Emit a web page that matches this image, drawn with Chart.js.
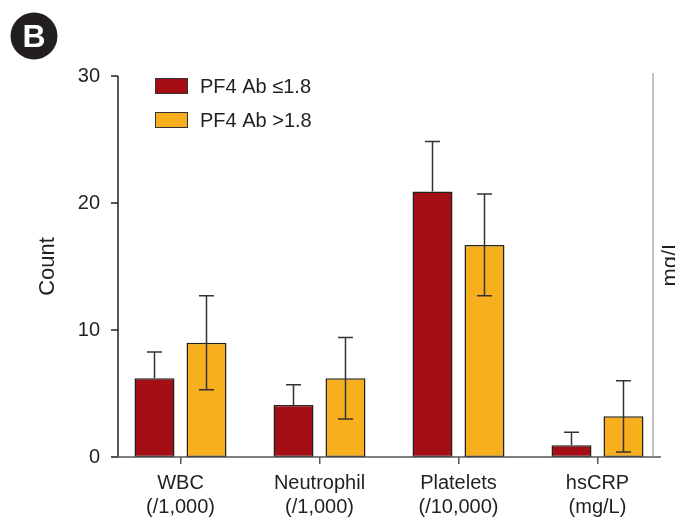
<!DOCTYPE html>
<html><head><meta charset="utf-8">
<script src="https://cdn.jsdelivr.net/npm/chart.js@4.4.1/dist/chart.umd.min.js"></script>
<style>html,body{margin:0;padding:0;background:#fff;} canvas{display:block;}</style>
</head><body>
<canvas id="c" width="675" height="519"></canvas>
<script>
// ---- data ----
const categories = [['WBC','(/1,000)'],['Neutrophil','(/1,000)'],['Platelets','(/10,000)'],['hsCRP','(mg/L)']];
const seriesNames = ['PF4 Ab \u22641.8','PF4 Ab >1.8'];
const lowMeans = [6.2, 4.1, 20.9, 0.92];
const lowErr   = [2.07, 1.58, 3.95, 1.02];
const highMeans = [9.0, 6.2, 16.7, 3.2];
const highErr   = [3.7, 3.2, 4.0, 2.8];
const yTicks = [0, 10, 20, 30];
const yTitle = 'Count';
const rightTitle = 'mg/L';
const panelLabel = 'B';

const FONT = "'Liberation Sans', Arial, sans-serif";
const TEXT = '#231f20';

const decor = {
  id: 'decor',
  afterDatasetsDraw(chart) {
    const ctx = chart.ctx, ys = chart.scales.y;
    chart.data.datasets.forEach((ds, di) => {
      const meta = chart.getDatasetMeta(di);
      meta.data.forEach((bar, i) => {
        const v = ds.data[i], e = ds.errors[i];
        const yt = ys.getPixelForValue(v + e);
        const yb = ds.showLower ? ys.getPixelForValue(v - e) : bar.y;
        ctx.save();
        ctx.strokeStyle = '#333'; ctx.lineWidth = 1.5;
        ctx.beginPath();
        ctx.moveTo(bar.x, yt); ctx.lineTo(bar.x, yb);
        ctx.moveTo(bar.x - 7.5, yt); ctx.lineTo(bar.x + 7.5, yt);
        if (ds.showLower) { ctx.moveTo(bar.x - 7.5, yb); ctx.lineTo(bar.x + 7.5, yb); }
        ctx.stroke();
        ctx.restore();
      });
    });
  },
  afterDraw(chart) {
    const ctx = chart.ctx, ca = chart.chartArea, ys = chart.scales.y;
    ctx.save();
    // y axis line + ticks
    const ax = ca.left + 7;
    ctx.strokeStyle = '#222'; ctx.lineWidth = 1.5;
    ctx.beginPath();
    ctx.moveTo(ax, ys.getPixelForValue(yTicks[yTicks.length - 1]));
    ctx.lineTo(ax, ca.bottom);
    yTicks.forEach(v => { const p = ys.getPixelForValue(v); ctx.moveTo(ca.left, p); ctx.lineTo(ax, p); });
    ctx.stroke();
    // x axis line
    ctx.strokeStyle = '#555';
    ctx.beginPath(); ctx.moveTo(ca.left + 1, ca.bottom); ctx.lineTo(ca.right - 6, ca.bottom); ctx.stroke();
    // right gray line
    ctx.strokeStyle = '#999'; ctx.lineWidth = 1.2;
    ctx.beginPath(); ctx.moveTo(ca.right - 14, ca.top - 3); ctx.lineTo(ca.right - 14, ca.bottom); ctx.stroke();
    // legend
    ctx.font = '20px ' + FONT; ctx.textBaseline = 'middle'; ctx.textAlign = 'left';
    chart.data.datasets.forEach((ds, i) => {
      const bx = ca.left + 44, by = ca.top + 2 + i * 34;
      ctx.fillStyle = ds.backgroundColor; ctx.fillRect(bx, by, 33, 16);
      ctx.strokeStyle = '#333'; ctx.lineWidth = 1; ctx.strokeRect(bx + 0.5, by + 0.5, 32, 15);
      ctx.fillStyle = TEXT; ctx.fillText(ds.label, bx + 45, by + 9);
    });
    // right title
    ctx.save();
    ctx.translate(677, 262); ctx.rotate(-Math.PI / 2);
    ctx.font = '22px ' + FONT; ctx.textAlign = 'center'; ctx.textBaseline = 'alphabetic';
    ctx.fillStyle = TEXT; ctx.fillText(rightTitle, 0, 0);
    ctx.restore();
    // panel badge
    ctx.fillStyle = '#231f20';
    ctx.beginPath(); ctx.arc(34, 36, 23.5, 0, Math.PI * 2); ctx.fill();
    ctx.fillStyle = '#fff'; ctx.font = 'bold 32px ' + FONT; ctx.textAlign = 'center'; ctx.textBaseline = 'middle';
    ctx.fillText(panelLabel, 34, 38);
    ctx.restore();
  }
};

new Chart(document.getElementById('c'), {
  type: 'bar',
  data: {
    labels: categories,
    datasets: [
      { label: seriesNames[0], data: lowMeans, errors: lowErr, showLower: false,
        backgroundColor: '#A50E14', borderColor: '#222', borderWidth: 1.5, borderSkipped: false,
        categoryPercentage: 0.748, barPercentage: 0.77 },
      { label: seriesNames[1], data: highMeans, errors: highErr, showLower: true,
        backgroundColor: '#F8AF1D', borderColor: '#222', borderWidth: 1.5, borderSkipped: false,
        categoryPercentage: 0.748, barPercentage: 0.77 }
    ]
  },
  options: {
    responsive: false, animation: false, devicePixelRatio: 1,
    layout: { padding: { left: 0, top: 76, right: 8, bottom: 0 } },
    plugins: { legend: { display: false }, tooltip: { enabled: false } },
    scales: {
      x: {
        type: 'category', offset: true,
        grid: { display: true, drawOnChartArea: false, drawTicks: true, tickLength: 7, offset: false, color: '#555', lineWidth: 1.5 },
        border: { display: false },
        ticks: { padding: 7, font: { size: 20, family: FONT }, color: TEXT, maxRotation: 0, autoSkip: false },
        afterFit: s => { s.height = 62; }
      },
      y: {
        min: 0, max: 30,
        grid: { display: false, drawTicks: false, tickLength: 0 },
        border: { display: false },
        afterBuildTicks: s => { s.ticks = yTicks.map(v => ({ value: v })); },
        ticks: { padding: 11, font: { size: 20, family: FONT }, color: TEXT },
        title: { display: true, text: yTitle, color: TEXT, font: { size: 22, family: FONT }, padding: { top: 35, bottom: 0 } },
        afterFit: s => { s.width = 111; }
      }
    }
  },
  plugins: [decor]
});
</script>
</body></html>
